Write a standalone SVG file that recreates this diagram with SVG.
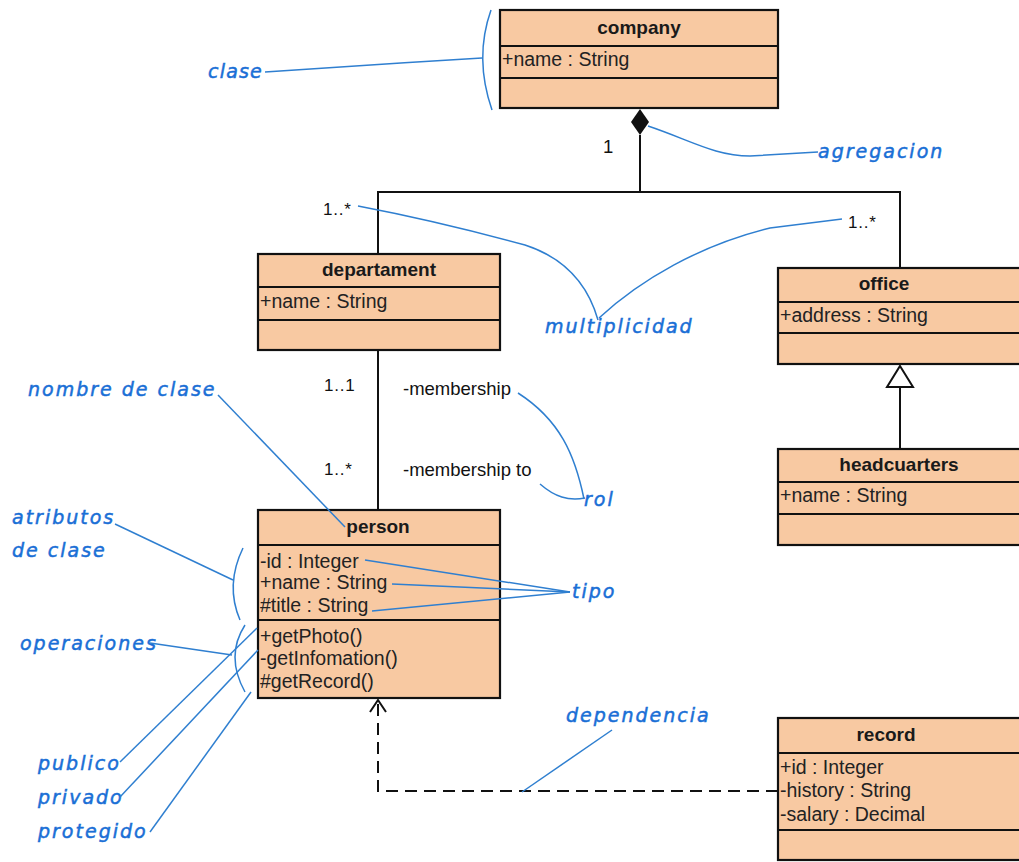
<svg xmlns="http://www.w3.org/2000/svg" width="1019" height="862" viewBox="0 0 1019 862">
  <style>
    .box { fill: #f8c9a2; stroke: #111; stroke-width: 2.2; }
    .div { stroke: #111; stroke-width: 2.2; }
    .title { font-family: "Liberation Sans", Arial, sans-serif; font-size: 19px; font-weight: bold; fill: #1a1a1a; text-anchor: middle; }
    .attr { font-family: "Liberation Sans", Arial, sans-serif; font-size: 19.5px; fill: #222; }
    .lbl { font-family: "Liberation Sans", Arial, sans-serif; font-size: 18.5px; fill: #111; }
    .mult { font-family: "Liberation Sans", Arial, sans-serif; font-size: 17px; letter-spacing: 0.8px; fill: #111; }
    .link { fill: none; stroke: #111; stroke-width: 2; }
    .dep { fill: none; stroke: #111; stroke-width: 2; stroke-dasharray: 12 7; }
    .note { font-family: "DejaVu Sans", sans-serif; font-style: italic; font-size: 19px; letter-spacing: 2px; fill: #1a6fd6; stroke: #1a6fd6; stroke-width: 0.5; }
    .lead { fill: none; stroke: #2f7fd0; stroke-width: 1.5; }
  </style>

  <rect width="1019" height="862" fill="#ffffff"/>

  <!-- connectors -->
  <g id="connectors">
    <!-- composition company -> departament / office -->
    <polygon points="640,109 649,122 640,135 631,122" fill="#111"/>
    <line class="link" x1="640" y1="135" x2="640" y2="192"/>
    <polyline class="link" points="378,254 378,192 900,192 900,268"/>
    <!-- departament - person association -->
    <line class="link" x1="378" y1="350" x2="378" y2="510"/>
    <!-- generalization headcuarters -> office -->
    <line class="link" x1="900" y1="448" x2="900" y2="387"/>
    <polygon points="900,366 913,387 887,387" fill="#fff" stroke="#111" stroke-width="2"/>
    <!-- dependency record -> person -->
    <polyline class="dep" points="778,791 378,791 378,702"/>
    <polyline class="link" points="370,712 378,700 386,712"/>
    <!-- association ends -->
    <text class="lbl" x="603" y="153">1</text>
    <text class="mult" x="323" y="215">1..*</text>
    <text class="mult" x="848" y="228">1..*</text>
    <text class="mult" x="324" y="391">1..1</text>
    <text class="mult" x="324" y="475">1..*</text>
    <text class="lbl" x="403" y="395">-membership</text>
    <text class="lbl" x="403" y="476">-membership to</text>
  </g>

  <!-- classes -->
  <g id="company">
    <rect class="box" x="500" y="10" width="278" height="98"/>
    <line class="div" x1="500" y1="46" x2="778" y2="46"/>
    <line class="div" x1="500" y1="78" x2="778" y2="78"/>
    <text class="title" x="639" y="34">company</text>
    <text class="attr" x="502" y="66">+name : String</text>
  </g>

  <g id="departament">
    <rect class="box" x="258" y="254" width="242" height="96"/>
    <line class="div" x1="258" y1="287" x2="500" y2="287"/>
    <line class="div" x1="258" y1="320" x2="500" y2="320"/>
    <text class="title" x="379" y="276">departament</text>
    <text class="attr" x="260" y="308">+name : String</text>
  </g>

  <g id="office">
    <rect class="box" x="778" y="268" width="260" height="96"/>
    <line class="div" x1="778" y1="302" x2="1038" y2="302"/>
    <line class="div" x1="778" y1="333" x2="1038" y2="333"/>
    <text class="title" x="884" y="290">office</text>
    <text class="attr" x="780" y="322">+address : String</text>
  </g>

  <g id="headcuarters">
    <rect class="box" x="778" y="449" width="260" height="96"/>
    <line class="div" x1="778" y1="482" x2="1038" y2="482"/>
    <line class="div" x1="778" y1="514" x2="1038" y2="514"/>
    <text class="title" x="899" y="471">headcuarters</text>
    <text class="attr" x="780" y="502">+name : String</text>
  </g>

  <g id="person">
    <rect class="box" x="258" y="510" width="242" height="188"/>
    <line class="div" x1="258" y1="545" x2="500" y2="545"/>
    <line class="div" x1="258" y1="620" x2="500" y2="620"/>
    <text class="title" x="378" y="533">person</text>
    <text class="attr" x="260" y="568">-id : Integer</text>
    <text class="attr" x="260" y="589">+name : String</text>
    <text class="attr" x="260" y="612">#title : String</text>
    <text class="attr" x="260" y="643">+getPhoto()</text>
    <text class="attr" x="260" y="665">-getInfomation()</text>
    <text class="attr" x="260" y="688">#getRecord()</text>
  </g>

  <g id="record">
    <rect class="box" x="778" y="718" width="260" height="142"/>
    <line class="div" x1="778" y1="753" x2="1038" y2="753"/>
    <line class="div" x1="778" y1="830" x2="1038" y2="830"/>
    <text class="title" x="886" y="741">record</text>
    <text class="attr" x="780" y="774">+id : Integer</text>
    <text class="attr" x="780" y="797">-history : String</text>
    <text class="attr" x="780" y="821">-salary : Decimal</text>
  </g>

  <!-- explanatory notes -->
  <g id="notes">
    <text class="note" x="208" y="78" style="letter-spacing:1.2px">clase</text>
    <path class="lead" d="M265,72 C330,68 410,62 482,58"/>
    <path class="lead" d="M491,10 Q474,58 492,110"/>

    <text class="note" x="818" y="158">agregacion</text>
    <path class="lead" d="M648,126 C690,140 715,156 750,156 L818,152"/>

    <text class="note" x="545" y="333">multiplicidad</text>
    <path class="lead" d="M598,320 C588,285 565,258 525,245 C470,230 400,214 358,206"/>
    <path class="lead" d="M599,318 C640,280 700,245 770,228 L842,219"/>

    <text class="note" x="28" y="396">nombre de clase</text>
    <path class="lead" d="M218,395 L345,527"/>

    <text class="note" x="584" y="506">rol</text>
    <path class="lead" d="M518,393 C560,420 575,455 584,499"/>
    <path class="lead" d="M540,484 C555,497 568,501 585,498"/>

    <text class="note" x="12" y="524">atributos</text>
    <text class="note" x="12" y="557">de clase</text>
    <path class="lead" d="M115,524 L233,580"/>
    <path class="lead" d="M243,548 Q225,585 240,620"/>

    <text class="note" x="572" y="598">tipo</text>
    <path class="lead" d="M365,560 L570,592"/>
    <path class="lead" d="M392,584 L570,592"/>
    <path class="lead" d="M372,611 L570,592"/>

    <text class="note" x="20" y="650">operaciones</text>
    <path class="lead" d="M150,643 L232,655"/>
    <path class="lead" d="M245,625 Q225,656 245,692"/>

    <text class="note" x="38" y="770">publico</text>
    <path class="lead" d="M120,762 L257,628"/>
    <text class="note" x="38" y="804">privado</text>
    <path class="lead" d="M120,797 L258,650"/>
    <text class="note" x="38" y="838">protegido</text>
    <path class="lead" d="M150,832 L251,692"/>

    <text class="note" x="566" y="722">dependencia</text>
    <path class="lead" d="M612,730 L522,792"/>
  </g>
</svg>
